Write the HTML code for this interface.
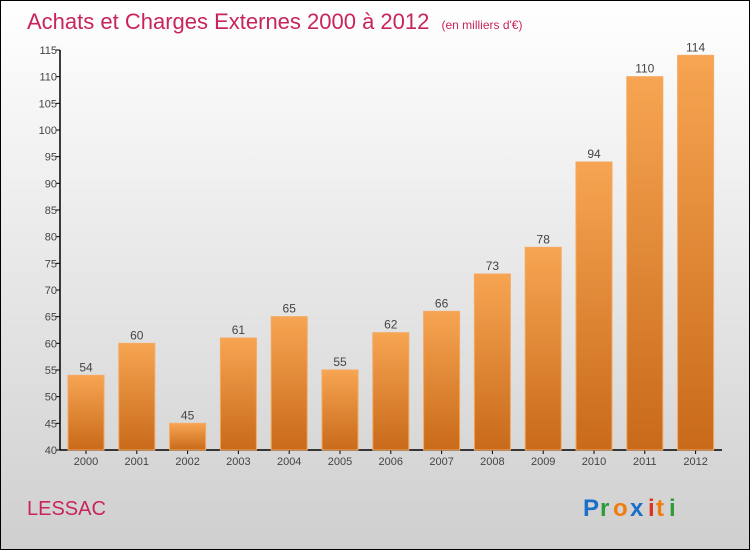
<!DOCTYPE html>
<html><head><meta charset="utf-8"><style>
body{margin:0;width:750px;height:550px;overflow:hidden}
svg{display:block}
</style></head><body>
<svg id="c" width="750" height="550" xmlns="http://www.w3.org/2000/svg" font-family="Liberation Sans, sans-serif">
<defs>
<linearGradient id="bg" x1="0" y1="0" x2="0" y2="1"><stop offset="0" stop-color="#ffffff"/><stop offset="1" stop-color="#cfcfcf"/></linearGradient>
<linearGradient id="bar" x1="0" y1="0" x2="0" y2="1"><stop offset="0" stop-color="#f7a552"/><stop offset="1" stop-color="#c86a1a"/></linearGradient>
</defs>
<rect x="0.5" y="0.5" width="749" height="549" fill="url(#bg)" stroke="#000"/>
<text x="27" y="29" font-size="22" fill="#c8255a">Achats et Charges Externes 2000 à 2012 <tspan font-size="12" dx="6">(en milliers d'€)</tspan></text>
<text x="27" y="515" font-size="20" fill="#c8255a">LESSAC</text>
<g font-size="24" font-weight="bold">
<text x="583" y="516" fill="#1a6fc8">P</text><text x="600" y="516" fill="#2e9a3a">r</text><text x="613" y="516" fill="#f07c10">o</text><text x="630" y="516" fill="#1a6fc8">x</text><text x="648" y="516" fill="#e03020">i</text><text x="656" y="516" fill="#f07c10">t</text><text x="669" y="516" fill="#2e9a3a">i</text>
</g>
<g id="axes"></g>
<g id="bars"></g>
</svg>
<script>
const years=["2000","2001","2002","2003","2004","2005","2006","2007","2008","2009","2010","2011","2012"];
const values=[54,60,45,61,65,55,62,66,73,78,94,110,114];
const ticks=[40,45,50,55,60,65,70,75,80,85,90,95,100,105,110,115];
const ns="http://www.w3.org/2000/svg";
const yMin=40,yMax=115,plotTop=50,plotBot=450,x0=60,step=50.8,bw=36;
const y=v=>plotBot-(v-yMin)/(yMax-yMin)*(plotBot-plotTop);
const xc=i=>86+i*step;
function mk(t,a,p){const e=document.createElementNS(ns,t);for(const k in a)e.setAttribute(k,a[k]);p.appendChild(e);return e;}
const ax=document.getElementById('axes'),bg=document.getElementById('bars');
ticks.forEach(t=>{
 const l=mk('line',{x1:x0-4,x2:x0,y1:y(t),y2:y(t),stroke:'#000'},ax);
 
 
 const tx=mk('text',{x:x0-3,y:y(t)+4,'font-size':11,fill:'#444','text-anchor':'end'},ax);
 tx.textContent=t;
 
 
});
const ya=mk('line',{x1:x0,x2:x0,y1:plotTop,y2:plotBot,stroke:'#000','stroke-width':1.5},ax);


const xa=mk('line',{x1:x0,x2:722,y1:plotBot,y2:plotBot,stroke:'#000','stroke-width':1.5},ax);


years.forEach((yr,i)=>{
 const v=values[i];
 const r=mk('rect',{x:xc(i)-bw/2,y:y(v),width:bw,height:plotBot-y(v),fill:'url(#bar)',stroke:'#f5a860','stroke-width':1},bg);
 
 
 const vl=mk('text',{x:xc(i),y:y(v)-4,'font-size':12,fill:'#444','text-anchor':'middle'},bg);
 vl.textContent=v;
 
 
 const tk=mk('line',{x1:xc(i),x2:xc(i),y1:plotBot,y2:plotBot+4,stroke:'#000'},ax);
 
 
 const xl=mk('text',{x:xc(i),y:plotBot+15,'font-size':11,fill:'#444','text-anchor':'middle'},ax);
 xl.textContent=yr;
 
 
});
</script>
</body></html>
